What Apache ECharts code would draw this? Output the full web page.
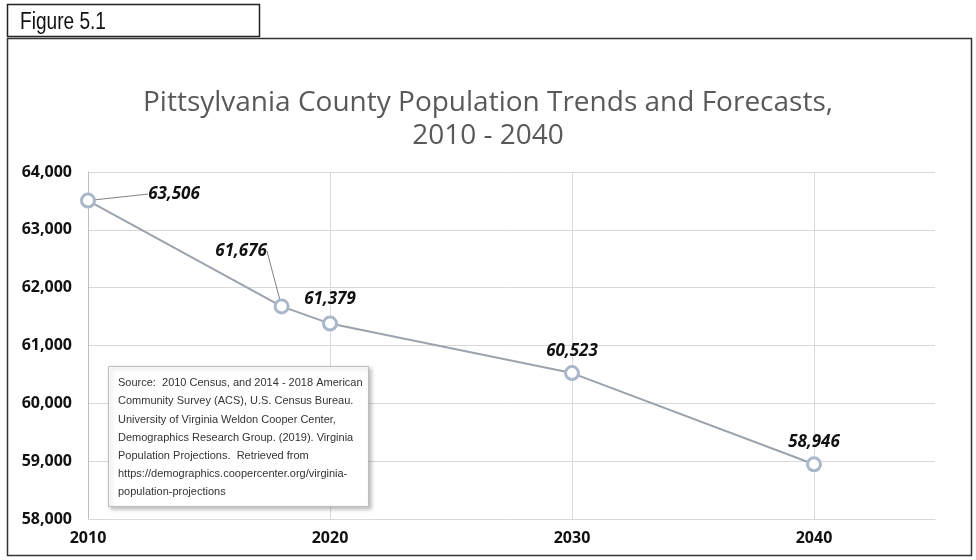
<!DOCTYPE html>
<html>
<head>
<meta charset="utf-8">
<script src="https://cdn.jsdelivr.net/npm/echarts@6/dist/echarts.min.js"></script>
<style>
  html, body { margin: 0; padding: 0; background: #ffffff; }
  #chart { width: 976px; height: 560px; }
</style>
</head>
<body>
<div id="chart"></div>
<script>
// Population: census estimates and projections
const years = [2010, 2018, 2020, 2030, 2040];
const population = [63506, 61676, 61379, 60523, 58946];
const yearTicks = [2010, 2020, 2030, 2040];
const popTicks = [58000, 59000, 60000, 61000, 62000, 63000, 64000];

const chartTitle = 'Pittsylvania County Population Trends and Forecasts,\n2010 - 2040';
const figureLabel = 'Figure 5.1';
const sourceNote = [
  'Source:  2010 Census, and 2014 - 2018 American',
  'Community Survey (ACS), U.S. Census Bureau.',
  'University of Virginia Weldon Cooper Center,',
  'Demographics Research Group. (2019). Virginia',
  'Population Projections.  Retrieved from',
  'https://demographics.coopercenter.org/virginia-',
  'population-projections'
].join('\n');

const fmt = v => v.toLocaleString('en-US');

// Labels that are pulled away from their markers with a leader line
const movedLabels = { 0: { dx: 86, dy: 18 }, 1: { dx: -32, dy: -31 } };
// Small downward nudges for the remaining labels
const labelNudge = { 3: { dy: 3 }, 4: { dy: 2 } };

const chart = echarts.init(document.getElementById('chart'), null, { renderer: 'canvas' });

chart.setOption({
  backgroundColor: '#ffffff',
  animation: false,
  title: [
    {
      text: chartTitle,
      left: 'center',
      top: 82,
      textStyle: {
        fontFamily: 'Open Sans',
        fontWeight: 'normal',
        fontSize: 28,
        lineHeight: 33,
        color: '#595959'
      }
    },
    {
      text: sourceNote,
      left: 108,
      top: 366,
      padding: [8, 6, 5, 10],
      backgroundColor: '#ffffff',
      borderColor: '#bfbfbf',
      borderWidth: 1,
      shadowColor: 'rgba(0,0,0,0.25)',
      shadowBlur: 4,
      shadowOffsetX: 2,
      shadowOffsetY: 2,
      textStyle: {
        fontFamily: 'Liberation Sans',
        fontWeight: 'normal',
        fontSize: 11,
        lineHeight: 18.2,
        color: '#333333'
      },
      z: 10
    }
  ],
  graphic: [
    {
      type: 'rect',
      shape: { x: 7.5, y: 4.5, width: 252, height: 32 },
      style: { fill: 'none', stroke: '#222222', lineWidth: 1.5 }
    },
    {
      type: 'text',
      x: 20,
      y: 11,
      scaleX: 0.83,
      style: {
        text: figureLabel,
        font: '23px "Liberation Sans", sans-serif',
        fill: '#111111'
      }
    },
    {
      type: 'rect',
      shape: { x: 7.5, y: 38.5, width: 964, height: 517 },
      style: { fill: 'none', stroke: '#333333', lineWidth: 1.5 }
    }
  ],
  grid: { left: 88, right: 41, top: 172, bottom: 41 },
  xAxis: {
    type: 'value',
    min: 2010,
    max: 2045,
    interval: 10,
    axisLine: { show: true, lineStyle: { color: '#d9d9d9', width: 1 } },
    axisTick: { show: false },
    splitLine: { show: true, showMinLine: false, showMaxLine: false, lineStyle: { color: '#d9d9d9', width: 1 } },
    axisLabel: {
      margin: 11,
      showMaxLabel: false,
      formatter: v => (yearTicks.includes(v) ? String(v) : ''),
      fontFamily: 'Open Sans',
      fontWeight: 'bold',
      fontSize: 16,
      color: '#111111'
    }
  },
  yAxis: {
    type: 'value',
    min: popTicks[0],
    max: popTicks[popTicks.length - 1],
    interval: 1000,
    axisLine: { show: true, lineStyle: { color: '#bfbfbf', width: 1 } },
    axisTick: { show: false },
    splitLine: { show: true, lineStyle: { color: '#d9d9d9', width: 1 } },
    axisLabel: {
      margin: 16,
      formatter: v => fmt(v),
      fontFamily: 'Open Sans',
      fontWeight: 'bold',
      fontSize: 16,
      color: '#111111'
    }
  },
  series: [
    {
      type: 'line',
      data: years.map((y, i) => ({
        value: [y, population[i]],
        labelLine: { show: i in movedLabels },
        label: i === 1 ? { padding: [0, 17, 0, 0] } : {}
      })),
      symbol: 'circle',
      symbolSize: 13,
      lineStyle: { color: '#9ba3ad', width: 2 },
      itemStyle: { color: '#ffffff', borderColor: '#a9b7c9', borderWidth: 3 },
      emphasis: { disabled: true },
      label: {
        show: true,
        position: 'top',
        distance: 8,
        formatter: p => fmt(p.value[1]),
        fontFamily: 'Open Sans',
        fontWeight: 'bold',
        fontStyle: 'italic',
        fontSize: 17,
        color: '#111111'
      },
      labelLine: {
        show: false,
        lineStyle: { color: '#808080', width: 1 }
      },
      labelLayout: p => movedLabels[p.dataIndex] || labelNudge[p.dataIndex] || {},
      z: 5
    }
  ]
});
</script>
</body>
</html>
